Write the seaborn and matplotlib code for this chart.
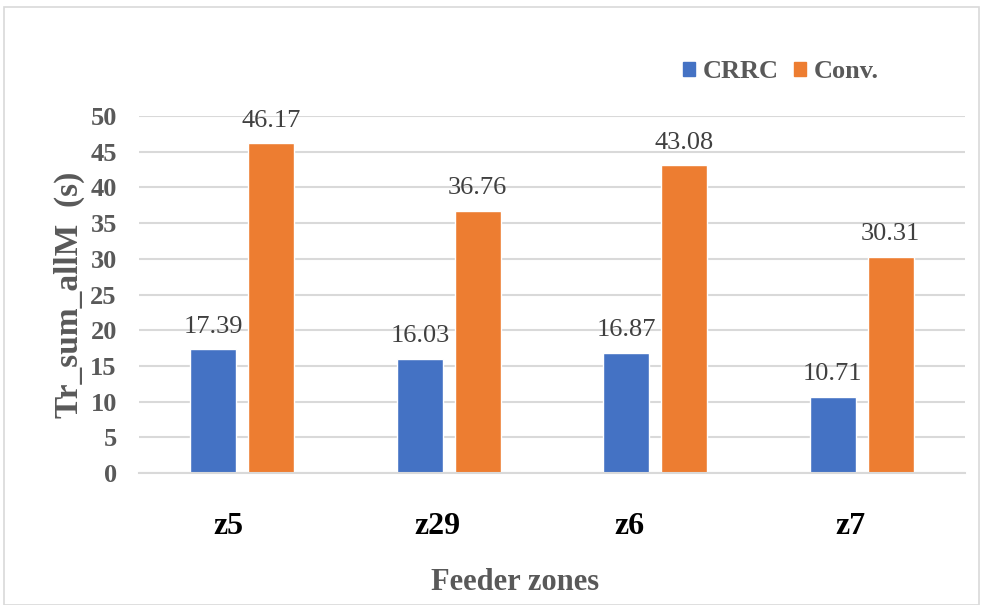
import matplotlib
matplotlib.use("Agg")
import matplotlib.pyplot as plt
import matplotlib.transforms as mtransforms
import seaborn as sns
import pandas as pd
from matplotlib.patches import Rectangle

zones = ["z5", "z29", "z6", "z7"]
crrc = [17.39, 16.03, 16.87, 10.71]
conv = [46.17, 36.76, 43.08, 30.31]
series = ["CRRC", "Conv."]
yticks = [0, 5, 10, 15, 20, 25, 30, 35, 40, 45, 50]

df = pd.DataFrame({
    "zone": zones * 2,
    "value": crrc + conv,
    "series": [series[0]] * len(zones) + [series[1]] * len(zones),
})

sns.set_theme(style="white")
plt.rcParams['font.family'] = ['Liberation Serif', 'DejaVu Serif']

fig = plt.figure(figsize=(9.82, 6.05), dpi=100)
ax = fig.add_axes([139/982, 1-473/605, (965-139)/982, (473-116)/605])

palette = {"CRRC": "#4472C4", "Conv.": "#ED7D31"}
sns.barplot(data=df, x="zone", y="value", hue="series", order=zones,
            hue_order=series, palette=palette, width=0.56, gap=0.2,
            saturation=1, ax=ax, legend=False, errorbar=None)

ax.set_ylim(0, 50)
ax.set_xlim(-0.5, 3.5)
ax.set_yticks(yticks)
ax.yaxis.grid(True, color="#d9d9d9", linewidth=1.5)
ax.set_axisbelow(True)
for s in ["top", "right", "left"]:
    ax.spines[s].set_visible(False)
ax.spines["bottom"].set_color("#d9d9d9")
ax.spines["bottom"].set_linewidth(1.5)
ax.tick_params(axis="both", length=0)
ax.tick_params(axis="y", pad=16)
ax.tick_params(axis="x", pad=28)

for lab in ax.get_yticklabels():
    lab.set_fontsize(19)
    lab.set_fontweight("bold")
    lab.set_color("#595959")
# small horizontal offsets (in pixels) seen in the reference label placement
label_shift_px = [-14, -11, -26, -11]
for lab, dx in zip(ax.get_xticklabels(), label_shift_px):
    lab.set_fontsize(23)
    lab.set_fontweight("bold")
    lab.set_color("black")
    lab.set_transform(lab.get_transform() +
                      mtransforms.ScaledTranslation(dx / 100, 0, fig.dpi_scale_trans))

ax.set_ylabel("Tr_sum_allM  (s)", fontsize=24, fontweight="bold", color="#595959", labelpad=4)
ax.set_xlabel("Feeder zones", fontsize=22, fontweight="bold", color="#595959", labelpad=20)
ax.xaxis.set_label_coords((515 - 139) / 826, -(583 - 473) / 357 + 0.0)
ax.xaxis.label.set_va("center")

for cont in ax.containers:
    ax.bar_label(cont, fmt="%.2f", padding=8, fontsize=19, color="#404040")

# legend
handles = [Rectangle((0, 0), 1, 1, color=palette[s]) for s in series]
fig.legend(handles, series, loc="center", bbox_to_anchor=(781/982, 1-72/605),
           ncol=2, frameon=False, handlelength=0.45, handleheight=0.45,
           handletextpad=0.3, columnspacing=0.6,
           prop={"family": "Liberation Serif", "weight": "bold", "size": 19},
           labelcolor="#595959")

# figure border
fig.patches.append(Rectangle((4/982, 0), (979-4)/982, 1-7/605, transform=fig.transFigure,
                             fill=False, edgecolor="#d9d9d9", linewidth=1.2))

fig.savefig("out.png", dpi=100, facecolor="white")
